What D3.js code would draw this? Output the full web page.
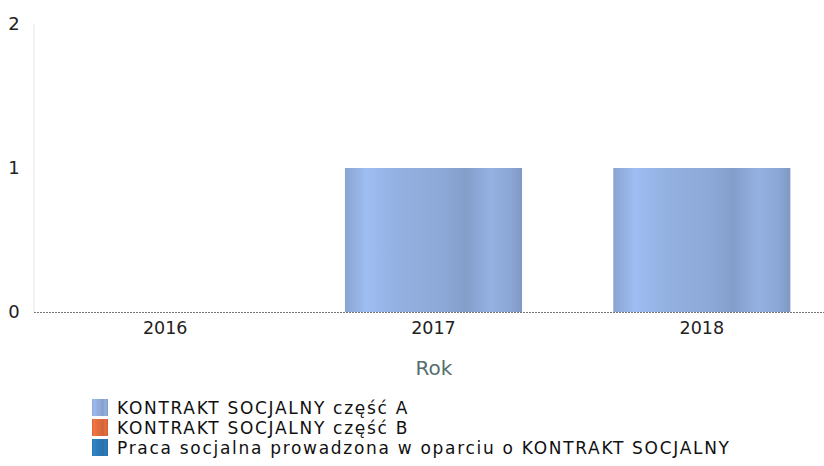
<!DOCTYPE html>
<html>
<head>
<meta charset="utf-8">
<script src="https://cdn.jsdelivr.net/npm/d3@7"></script>
<style>
  body { margin: 0; background: #fff; }
  svg text { font-family: "DejaVu Sans", sans-serif; }
</style>
</head>
<body>
<div id="chart"></div>
<script>
const years = ["2016", "2017", "2018"];
const seriesNames = [
    "KONTRAKT SOCJALNY część A",
    "KONTRAKT SOCJALNY część B",
    "Praca socjalna prowadzona w oparciu o KONTRAKT SOCJALNY"
];
const seriesA = [0, 1, 1];
const seriesB = [0, 0, 0];
const seriesC = [0, 0, 0];
const yTicks = [0, 1, 2];
const seriesColors = ["#8eaad9", "#dd6a3c", "#2b78b4"];

const width = 824, height = 466;
const margin = {top: 24, right: -12, bottom: 154, left: 34};

const svg = d3.select("#chart").append("svg")
    .attr("width", width)
    .attr("height", height);

const defs = svg.append("defs");
// pionowe pasy cieniowania na słupkach
function addGradient(id, base) {
    const c = d3.color(base);
    const g = defs.append("linearGradient").attr("id", id)
        .attr("x1", "0%").attr("x2", "100%").attr("y1", "0%").attr("y2", "0%");
    const stops = [
        [0, c.darker(0.1)], [0.12, c.brighter(0.3)], [0.3, c.brighter(0.1)],
        [0.55, c.darker(0.02)], [0.68, c.darker(0.2)], [0.82, c.brighter(0.12)],
        [0.93, c.darker(0.05)], [1, c.darker(0.3)]
    ];
    stops.forEach(([o, col]) => g.append("stop").attr("offset", o).attr("stop-color", col));
}
seriesColors.forEach((col, i) => addGradient("grad" + i, col));

const x = d3.scaleBand().domain(years)
    .range([margin.left - 3, width - margin.right])
    .paddingInner(0.34).paddingOuter(0.17);
const y = d3.scaleLinear().domain([0, 2]).range([height - margin.bottom, margin.top]);

// oś Y
svg.append("line")
    .attr("x1", margin.left).attr("x2", margin.left)
    .attr("y1", y(2)).attr("y2", y(0))
    .attr("stroke", "#e4e4e4").attr("stroke-width", 1);

svg.selectAll("text.ytick").data(yTicks).join("text")
    .attr("class", "ytick")
    .attr("x", 14).attr("y", d => y(d))
    .attr("dy", "0.36em")
    .attr("text-anchor", "middle")
    .attr("font-size", 18)
    .attr("fill", "#222")
    .text(d => d);

// słupki (skumulowane)
const rows = years.map((yr, i) => ({year: yr, a: seriesA[i], b: seriesB[i], c: seriesC[i]}));
const stack = d3.stack().keys(["a", "b", "c"])(rows);

svg.append("g").selectAll("g").data(stack).join("g")
    .attr("fill", (d, i) => `url(#grad${i})`)
    .selectAll("rect").data(d => d.filter(v => v[1] - v[0] > 0)).join("rect")
    .attr("x", d => x(d.data.year))
    .attr("width", x.bandwidth())
    .attr("y", d => y(d[1]))
    .attr("height", d => y(d[0]) - y(d[1]));

// linia bazowa
svg.append("line")
    .attr("x1", margin.left).attr("x2", width)
    .attr("y1", y(0) + 0.5).attr("y2", y(0) + 0.5)
    .attr("stroke", "#777").attr("stroke-width", 1)
    .attr("stroke-dasharray", "2,1");

svg.selectAll("text.xtick").data(years).join("text")
    .attr("class", "xtick")
    .attr("x", d => x(d) + x.bandwidth() / 2)
    .attr("y", y(0) + 22)
    .attr("text-anchor", "middle")
    .attr("font-size", 17.5)
    .attr("fill", "#222")
    .text(d => d);

svg.append("text")
    .attr("x", 434).attr("y", 375)
    .attr("text-anchor", "middle")
    .attr("font-size", 20)
    .attr("fill", "#566e6e")
    .text("Rok");

// legenda
const legend = svg.append("g").attr("transform", "translate(92,399)");
const item = legend.selectAll("g").data(seriesNames).join("g")
    .attr("transform", (d, i) => `translate(0,${i * 20})`);
item.append("rect")
    .attr("width", 16).attr("height", 17)
    .attr("fill", (d, i) => `url(#grad${i})`);
const labels = item.append("text")
    .attr("x", 25).attr("y", 9)
    .attr("dy", "0.36em")
    .attr("font-size", 17)
    .attr("fill", "#111")
    .text(d => d);

// dopasowanie odstępów liter do szerokości z oryginału
const longest = labels.filter((d, i) => i === 2).node();
const w = longest.getComputedTextLength();
const ls = (612 - w) / (seriesNames[2].length - 1);
labels.attr("letter-spacing", ls);
</script>
</body>
</html>
